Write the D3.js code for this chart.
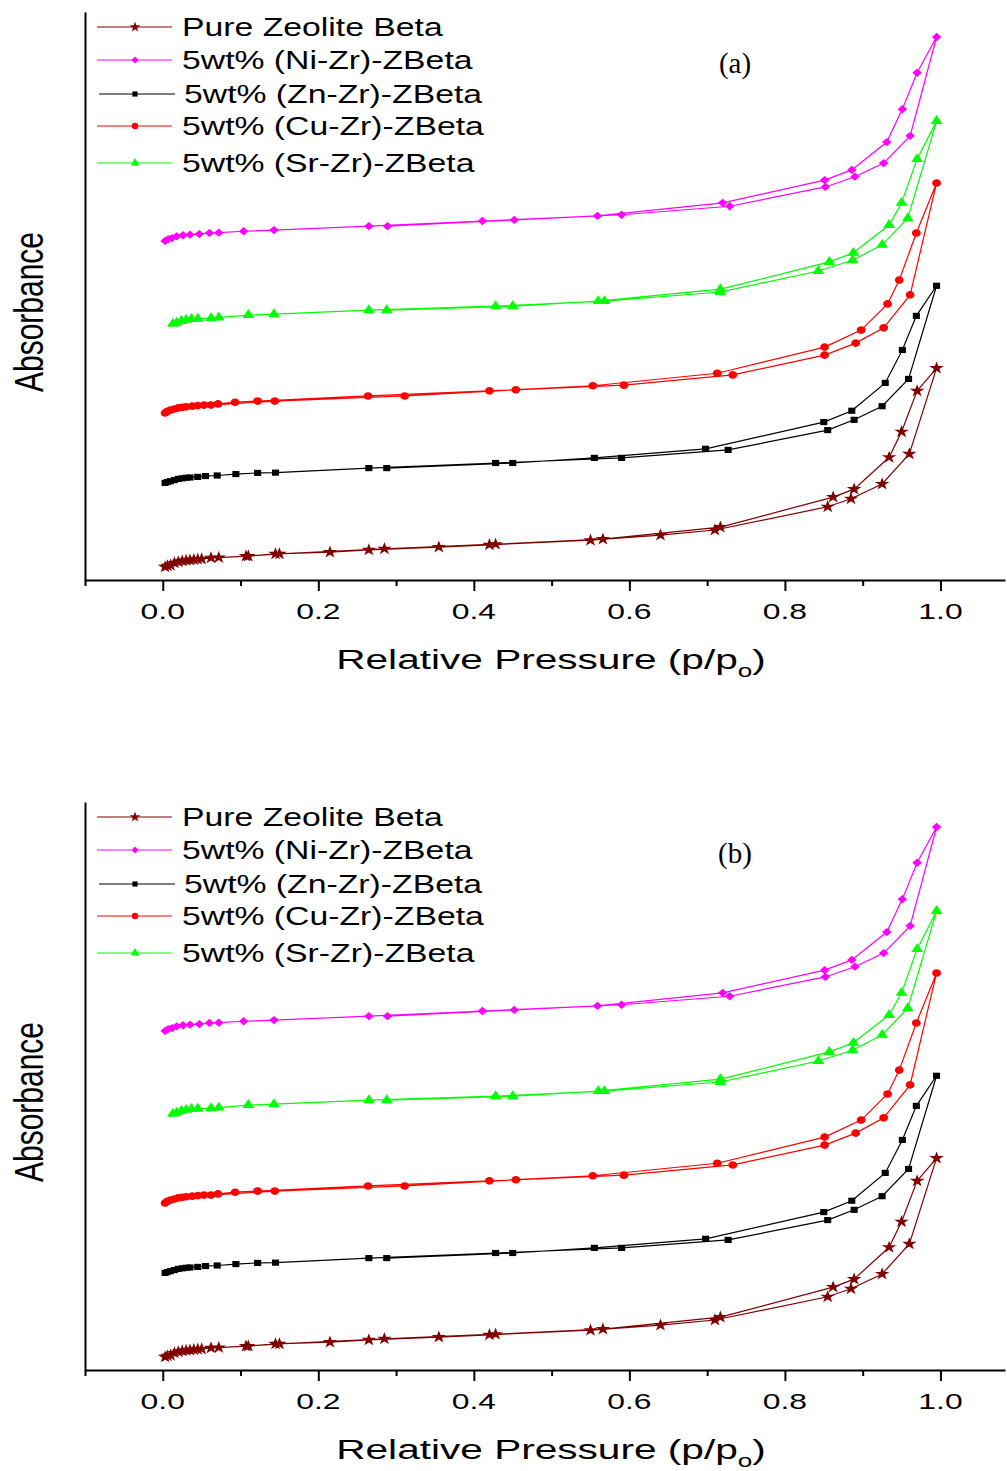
<!DOCTYPE html>
<html>
<head>
<meta charset="utf-8">
<script src="https://cdn.jsdelivr.net/npm/d3@7"></script>
<style>
body { margin: 0; background: #fff; }
svg { display: block; }
</style>
</head>
<body>
<svg id="chart" width="1007" height="1471"></svg>
<script>
"use strict"

// isotherm points: [p/po, absorbance (arb. units)]
const pureAds = [[0.003,2.3],[0.006,2.5],[0.010,2.6],[0.015,3.0],[0.020,3.2],[0.025,3.35],[0.030,3.45],[0.035,3.5],[0.040,3.6],[0.045,3.65],[0.050,3.7],[0.062,3.9],[0.072,3.95],[0.107,4.2],[0.145,4.6],[0.215,4.9],[0.265,5.3],[0.355,5.8],[0.420,6.2],[0.550,7.0],[0.640,7.9],[0.710,8.8],[0.855,12.9],[0.885,14.3],[0.925,16.9],[0.960,22.2],[0.995,37.3]]
const pureDes = [[0.970,33.3],[0.950,26.1],[0.934,21.6],[0.889,16.0],[0.862,14.6],[0.717,9.3],[0.566,7.2],[0.428,6.3],[0.285,5.5],[0.150,4.6],[0.110,4.2]]

const niAds = [[0.003,59.7],[0.007,60.0],[0.012,60.2],[0.018,60.5],[0.026,60.7],[0.035,60.8],[0.047,60.9],[0.060,61.1],[0.072,61.15],[0.104,61.4],[0.143,61.6],[0.265,62.3],[0.411,63.2],[0.590,64.3],[0.729,65.8],[0.852,69.2],[0.890,71.0],[0.927,73.4],[0.961,78.2],[0.995,95.6]]
const niDes = [[0.970,89.3],[0.951,82.9],[0.931,77.1],[0.886,72.2],[0.851,70.4],[0.720,66.4],[0.559,64.1],[0.452,63.4],[0.289,62.3]]

const znAds = [[0.003,17.1],[0.006,17.25],[0.010,17.4],[0.015,17.6],[0.020,17.8],[0.025,17.9],[0.030,18.0],[0.035,18.05],[0.045,18.15],[0.055,18.3],[0.070,18.4],[0.094,18.65],[0.122,18.85],[0.145,18.9],[0.265,19.7],[0.428,20.6],[0.590,21.5],[0.727,22.9],[0.855,26.4],[0.889,28.2],[0.925,30.6],[0.959,35.4],[0.995,51.8]]
const znDes = [[0.969,46.5],[0.951,40.5],[0.929,34.7],[0.886,29.8],[0.850,27.8],[0.698,23.1],[0.555,21.5],[0.450,20.6],[0.288,19.7]]

const cuAds = [[0.003,29.4],[0.006,29.7],[0.010,29.9],[0.015,30.1],[0.020,30.3],[0.025,30.4],[0.030,30.5],[0.038,30.6],[0.045,30.7],[0.053,30.8],[0.071,31.0],[0.093,31.3],[0.122,31.5],[0.264,32.4],[0.420,33.3],[0.593,34.3],[0.733,36.1],[0.851,39.6],[0.891,41.7],[0.927,44.4],[0.961,50.2],[0.995,69.9]]
const cuDes = [[0.969,61.1],[0.947,52.8],[0.932,48.6],[0.898,44.0],[0.851,41.0],[0.713,36.4],[0.553,34.2],[0.454,33.5],[0.311,32.4],[0.144,31.5],[0.062,30.8]]

const srAds = [[0.013,45.1],[0.018,45.3],[0.024,45.6],[0.030,45.8],[0.037,45.95],[0.045,46.0],[0.062,46.1],[0.072,46.2],[0.110,46.65],[0.143,46.8],[0.265,47.5],[0.428,48.2],[0.568,49.1],[0.717,50.7],[0.843,54.4],[0.887,56.3],[0.925,59.0],[0.958,63.7],[0.995,80.8]]
const srDes = [[0.970,74.1],[0.950,66.4],[0.934,62.5],[0.888,57.6],[0.857,56.0],[0.717,51.2],[0.560,49.1],[0.450,48.2],[0.288,47.5]]

const seriesNames = ["Pure Zeolite Beta", "5wt% (Ni-Zr)-ZBeta", "5wt% (Zn-Zr)-ZBeta",
    "5wt% (Cu-Zr)-ZBeta", "5wt% (Sr-Zr)-ZBeta"]
const seriesColors = ["#800000", "#ff00ff", "#000000", "#ff0000", "#00ff00"]
const majorTicks = [0, 0.2, 0.4, 0.6, 0.8, 1.0]
const minorTicks = [-0.1, 0.1, 0.3, 0.5, 0.7, 0.9]
const panelLabels = ["(a)", "(b)"]

const symbols = [d3.symbolStar, d3.symbolDiamond2, d3.symbolSquare, d3.symbolCircle, d3.symbolTriangle]
const symbolSizes = [50, 44, 38, 46, 46]

let series = [
    pureAds.concat(pureDes), niAds.concat(niDes), znAds.concat(znDes),
    cuAds.concat(cuDes), srAds.concat(srDes)
].map((pts, i) => ({name: seriesNames[i], color: seriesColors[i],
    symbol: symbols[i], size: symbolSizes[i], pts: pts}))

let svg = d3.select("#chart")
let font = "'Liberation Sans', Arial, sans-serif"

let x = d3.scaleLinear().domain([-0.1, 1.083]).range([85, 1005])
let y = d3.scaleLinear().domain([0, 100]).range([580, 12])

/**
* text drawn wide like the original figure
*/
function wideText(parent, tx, ty, sx, anchor, size) {
    return parent.append("g")
        .attr("transform", "translate(" + tx + "," + ty + ") scale(" + sx + ",1)")
        .append("text")
        .attr("text-anchor", anchor)
        .attr("font-family", font)
        .attr("font-size", size)
        .attr("fill", "#000")
}

function drawPanel(g, label) {
    // x axis with major and minor ticks
    g.append("g")
        .attr("transform", "translate(0," + y(0) + ")")
        .call(d3.axisBottom(x).tickValues(minorTicks).tickSize(6).tickSizeOuter(0).tickFormat(""))
        .call(a => a.select(".domain").remove())
        .call(a => a.selectAll("line").attr("stroke-width", 2))

    let xa = g.append("g")
        .attr("transform", "translate(0," + y(0) + ")")
        .call(d3.axisBottom(x).tickValues(majorTicks).tickSize(11).tickSizeOuter(0).tickFormat(""))
    xa.select(".domain").attr("stroke-width", 2)
    xa.selectAll("line").attr("stroke-width", 2)

    majorTicks.forEach(t => {
        wideText(g, x(t), y(0) + 39, 1.45, "middle", 22).text(d3.format(".1f")(t))
    })

    g.append("g")
        .attr("transform", "translate(" + x(-0.1) + ",0)")
        .call(d3.axisLeft(y).tickValues([]).tickSizeOuter(0))
        .select(".domain").attr("stroke-width", 2)

    // axis titles
    let xt = wideText(g, 551, y(0) + 89, 1.45, "middle", 28)
    xt.append("tspan").text("Relative Pressure (p/p")
    xt.append("tspan").attr("font-size", 18).attr("dy", 8).text("o")
    xt.append("tspan").attr("dy", -8).text(")")

    g.append("g")
        .attr("transform", "translate(43," + (y(50) + 16) + ") scale(1.36,1) rotate(-90)")
        .append("text")
        .attr("text-anchor", "middle")
        .attr("font-family", font)
        .attr("font-size", 30)
        .text("Absorbance")

    // curves
    let line = d3.line().x(d => x(d[0])).y(d => y(d[1]))
    series.forEach(s => {
        g.append("path")
            .attr("d", line(s.pts))
            .attr("fill", "none")
            .attr("stroke", s.color)
            .attr("stroke-width", 1.2)
        g.append("g").selectAll("path")
            .data(s.pts)
            .enter().append("path")
            .attr("transform", d => "translate(" + x(d[0]) + "," + y(d[1]) + ") scale(1.15,1)")
            .attr("d", d3.symbol(s.symbol, s.size))
            .attr("fill", s.color)
    })

    // legend
    let rowY = [15, 48, 82, 114, 151]
    series.forEach((s, i) => {
        let ly = y(100) + rowY[i]
        g.append("line")
            .attr("x1", i == 2 ? 99 : 97).attr("x2", i == 2 ? 175 : 172)
            .attr("y1", ly).attr("y2", ly)
            .attr("stroke", s.color)
            .attr("stroke-width", 1.2)
        g.append("path")
            .attr("transform", "translate(135," + ly + ")")
            .attr("d", d3.symbol(s.symbol, s.size * 0.7))
            .attr("fill", s.color)
        wideText(g, i == 2 ? 184 : 182, ly + 9, 1.35, "start", 25).text(s.name)
    })

    g.append("text")
        .attr("x", 735)
        .attr("y", y(100) + 61)
        .attr("text-anchor", "middle")
        .attr("font-family", "'Liberation Serif', 'Times New Roman', serif")
        .attr("font-size", 29)
        .text(label)
}

panelLabels.forEach((label, i) => {
    drawPanel(svg.append("g").attr("transform", "translate(0," + (i * 790) + ")"), label)
})
</script>
</body>
</html>
